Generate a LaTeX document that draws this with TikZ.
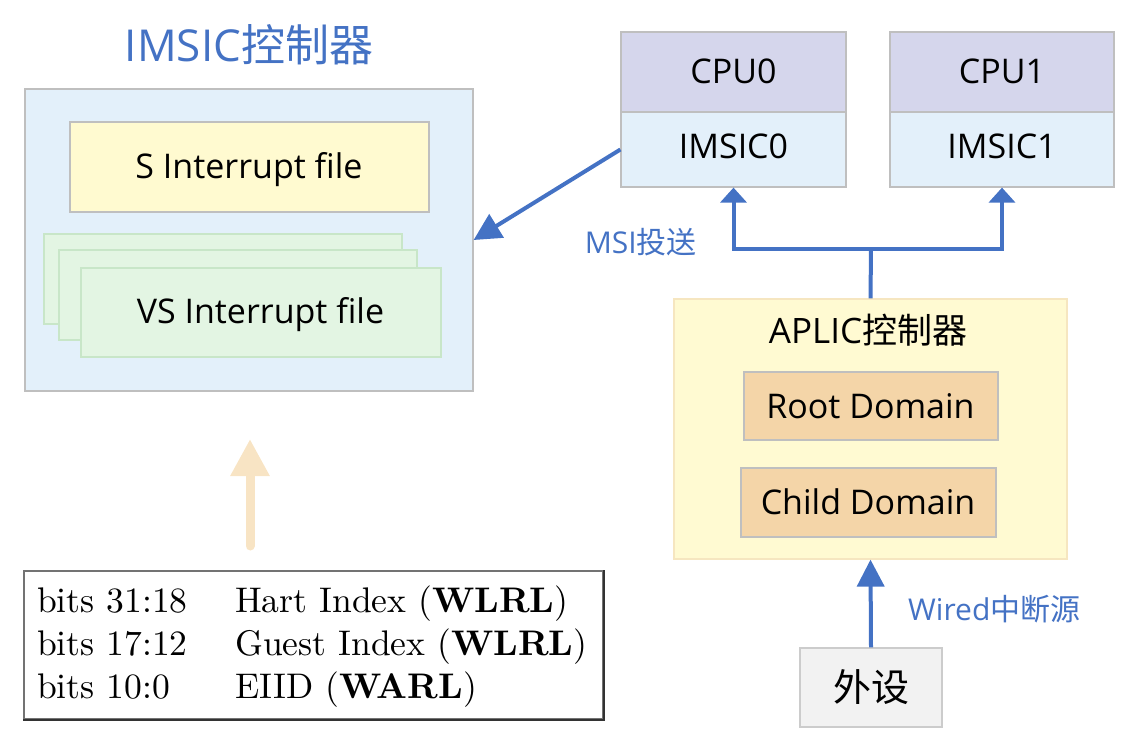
\documentclass[tikz,border=0pt]{standalone}
\usepackage{fontspec}
\newfontfamily\osf{Open Sans}
\newfontfamily\cjk{Noto Sans CJK SC}
\newfontfamily\lmr{lmroman10-regular.otf}[BoldFont=lmroman10-bold.otf]
\usetikzlibrary{arrows.meta}
\definecolor{ablue}{HTML}{4472C4}
\definecolor{boxgray}{HTML}{BFBFBF}
\definecolor{cpufill}{HTML}{D5D6EC}
\definecolor{imsfill}{HTML}{E3F0FA}
\definecolor{sfill}{HTML}{FFFAD0}
\definecolor{vsfill}{HTML}{E3F5E3}
\definecolor{vsdraw}{HTML}{C8E6C8}
\definecolor{apfill}{HTML}{FFFAD2}
\definecolor{apdraw}{HTML}{F6E6C0}
\definecolor{domfill}{HTML}{F4D5A8}
\definecolor{perfill}{HTML}{F2F2F2}
\definecolor{orangec}{HTML}{F8E4C4}
\newcommand\fsz[1]{\fontsize{#1}{#1}\selectfont}
\begin{document}
\begin{tikzpicture}[x=1pt,y=-1pt,
  box/.style={draw=boxgray, line width=1.2pt, inner sep=0pt, rectangle},
  lbl/.style={inner sep=0pt, anchor=base, font=\osf\fsz{34}},
  tab/.style={inner sep=0pt, anchor=base west, font=\lmr\fsz{35.6}},
  bluearrow/.style={draw=ablue, line width=4pt},
  bighead/.style={-{Triangle[width=27pt,length=27pt]}},
  smallhead/.style={-{Triangle[width=26pt,length=15pt]}}]
\useasboundingbox (0,0) rectangle (1140,748);
% IMSIC controller
\node[box, fill=imsfill, minimum width=448pt, minimum height=302pt] (imsicbox) at (249,240) {};
\node[inner sep=0pt, anchor=base, text=ablue, font=\osf\fsz{44}] (title) at (249,61) {IMSIC{\cjk 控制器}};
\node[box, fill=sfill, minimum width=359pt, minimum height=90pt] (sfile) at (249.5,167) {};
\node[lbl] (stext) at (249,178) {S Interrupt file};
\node[box, draw=vsdraw, fill=vsfill, minimum width=358pt, minimum height=90pt] (vs3) at (223,279) {};
\node[box, draw=vsdraw, fill=vsfill, minimum width=358pt, minimum height=90pt] (vs2) at (238,295) {};
\node[box, draw=vsdraw, fill=vsfill, minimum width=360pt, minimum height=89pt] (vs1) at (261,312.5) {};
\node[lbl] (vstext) at (260.5,323) {VS Interrupt file};
% CPUs
\node[box, fill=cpufill, minimum width=225pt, minimum height=80pt] (cpu0) at (733.5,72) {};
\node[lbl] (cpu0t) at (733.5,83) {CPU0};
\node[box, fill=imsfill, minimum width=225pt, minimum height=75pt] (imsic0) at (733.5,149.5) {};
\node[lbl] (imsic0t) at (733.5,158) {IMSIC0};
\node[box, fill=cpufill, minimum width=224pt, minimum height=80pt] (cpu1) at (1002,72) {};
\node[lbl] (cpu1t) at (1002,83) {CPU1};
\node[box, fill=imsfill, minimum width=224pt, minimum height=75pt] (imsic1) at (1002,149.5) {};
\node[lbl] (imsic1t) at (1002,158) {IMSIC1};
% APLIC
\node[box, draw=apdraw, fill=apfill, minimum width=393pt, minimum height=260pt] (aplic) at (870.5,429) {};
\node[lbl, font=\osf\fsz{35}] (aptitle) at (868,343) {APLIC{\cjk 控制器}};
\node[box, fill=domfill, minimum width=254pt, minimum height=68pt] (root) at (871,406) {};
\node[lbl] (roott) at (870.5,418) {Root Domain};
\node[box, fill=domfill, minimum width=255pt, minimum height=69pt] (child) at (868.5,502.5) {};
\node[lbl] (childt) at (868,514) {Child Domain};
\node[box, draw=boxgray!80, fill=perfill, minimum width=142pt, minimum height=79pt] (periph) at (871,687.5) {};
\node[inner sep=0pt, font=\cjk\fsz{38}] (peripht) at (871,687) {外设};
% labels
\node[inner sep=0pt, anchor=base east, text=ablue, font=\osf\fsz{30}] (msi) at (697,253) {MSI{\cjk 投送}};
\node[inner sep=0pt, anchor=base west, text=ablue, font=\osf\fsz{30}] (wired) at (908,620) {Wired{\cjk 中断源}};
% connectors
\draw[bluearrow, bighead] (imsic0.west) -- (imsicbox.east);
\coordinate (junc) at (871,249);
\draw[bluearrow] (aplic.north) -- (junc);
\draw[bluearrow, smallhead] (junc) -| (imsic0.south);
\draw[bluearrow, smallhead] (junc) -| (imsic1.south);
\draw[bluearrow, bighead] (periph.north) -- (aplic.south);
% register table
\node[draw=black!55, line width=1.5pt, fill=white, minimum width=579pt, minimum height=148pt, inner sep=0pt] (table) at (313.5,645) {};
\draw[black!80, line width=1.5pt] (table.north east) -- (table.south east) -- (table.south west);
\node[tab] (r1a) at (37,612) {bits 31:18};
\node[tab] (r1b) at (235,612) {Hart Index (\textbf{WLRL})};
\node[tab] (r2a) at (37,655) {bits 17:12};
\node[tab] (r2b) at (235,655) {Guest Index (\textbf{WLRL})};
\node[tab] (r3a) at (37,698) {bits 10:0};
\node[tab] (r3b) at (235,698) {EIID (\textbf{WARL})};
\coordinate (obot) at (250,546);
\coordinate (otop) at (250,439);
\draw[orangec, line width=9pt, line cap=round, -{Triangle[width=37pt,length=37pt]}] (obot) -- (otop);
\end{tikzpicture}
\end{document}
